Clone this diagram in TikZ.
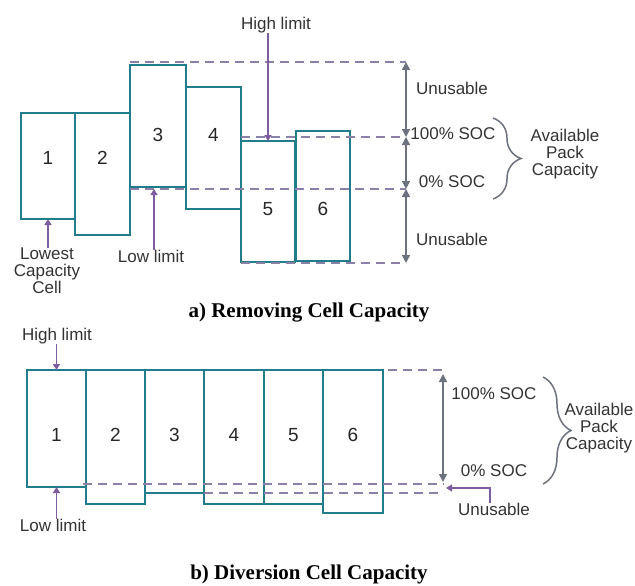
\documentclass[tikz,border=0pt]{standalone}
\usepackage{fontspec}
\setmainfont{Liberation Sans}
\newfontfamily\captionfont{Liberation Serif}
\usepackage{tikz}
\usetikzlibrary{arrows.meta,calc,decorations.pathreplacing}
\definecolor{cellteal}{RGB}{33,124,140}
\definecolor{guidegrey}{RGB}{140,128,168}
\definecolor{limpurple}{RGB}{125,92,160}
\definecolor{socgrey}{RGB}{108,114,128}

\begin{document}
\begin{tikzpicture}[x=1pt, y=-1pt,
    cell/.style={rectangle, draw=cellteal, line width=1.9pt, inner sep=0pt, outer sep=0pt},
    num/.style={font=\fontsize{19}{19}\selectfont, text=black!85, inner sep=0pt},
    lbl/.style={font=\fontsize{17}{17}\selectfont, text=black!80, inner sep=0pt, align=center},
    guide/.style={draw=guidegrey, line width=1.5pt, dash pattern=on 9pt off 6pt},
    limarrow/.style={-{Triangle[length=6pt,width=7pt]}, draw=limpurple, line width=1.6pt},
    socarrow/.style={{Triangle[length=8pt,width=8pt]}-{Triangle[length=8pt,width=8pt]}, draw=socgrey, line width=1.6pt},
    packbrace/.style={draw=socgrey, line width=1.5pt, decorate, decoration={brace, amplitude=28pt}},
    capt/.style={font=\captionfont\fontsize{21}{22}\selectfont\bfseries, inner sep=0pt}]
    \useasboundingbox (0,0) rectangle (635,586);

    % a) removing cell capacity
    \foreach \n/\xl/\xr/\yt/\yb/\ty in {1/21/75/113/219/158, 2/75/130/113/235/158,
        3/130/186/65/187/135, 4/186/241/87/209/135, 5/241/295/141/262/209, 6/296/350/131/261/209}{
        \pgfmathsetmacro{\cellw}{\xr-\xl}
        \pgfmathsetmacro{\cellh}{\yb-\yt}
        \node[cell, minimum width=\cellw pt, minimum height=\cellh pt] (a\n) at ({(\xl+\xr)/2},{(\yt+\yb)/2}) {};
        \node[num] (na\n) at ({(\xl+\xr)/2},\ty) {\n};
    }
    \coordinate (aTop) at (406,62);
    \coordinate (aHi)  at (406,137);
    \coordinate (aLo)  at (406,189);
    \coordinate (aBot) at (406,263);
    \draw[guide] (130,62) -- (aTop);
    \draw[guide] (241,137) -- (aHi);
    \draw[guide] (130,189) -- (aLo);
    \draw[guide] (241,263) -- (aBot);
    \draw[socarrow] (aTop) -- (aHi);
    \draw[socarrow] (aHi) -- (aLo);
    \draw[socarrow] (aLo) -- (aBot);
    \node[lbl] (unA1) at (452,88) {Unusable};
    \node[lbl] (fullA) at (453,134) {100\% SOC};
    \node[lbl] (zeroA) at (452,182) {0\% SOC};
    \node[lbl] (unA2) at (452,239) {Unusable};
    \draw[packbrace] (493,118) -- (493,199);
    \node[lbl] (packA) at (565,154) {Available\\Pack\\Capacity};

    \node[lbl] (hiA) at (276,25) {High limit};
    \draw[limarrow] (hiA.south -| a5.north) -- (a5.north);
    \node[lbl] (loA) at (151,256) {Low limit};
    \draw[limarrow] ([xshift=3pt]loA.north) -- ([xshift=3pt]loA.north |- aLo);
    \node[lbl] (lccA) at (47,271) {Lowest\\Capacity\\Cell};
    \draw[limarrow] (lccA.north -| a1.south) -- (a1.south);

    \node[capt] (captA) at (309,313) {a) Removing Cell Capacity};

    % b) diversion cell capacity
    \foreach \n/\xl/\xr/\yb in {1/27/86/487, 2/86/145/504, 3/145/204/493,
        4/204/264/504, 5/264/323/504, 6/323/383/513}{
        \pgfmathsetmacro{\cellw}{\xr-\xl}
        \pgfmathsetmacro{\cellh}{\yb-370}
        \node[cell, minimum width=\cellw pt, minimum height=\cellh pt] (b\n) at ({(\xl+\xr)/2},{(370+\yb)/2}) {};
        \node[num] (nb\n) at ({(\xl+\xr)/2},435) {\n};
    }
    \coordinate (bTop) at (443,374);
    \coordinate (bLo)  at (443,482);
    \coordinate (bUn)  at (446,488);
    \draw[guide] (388,370) -- (444,370);
    \draw[guide] (83,484) -- (444,484);
    \draw[guide] (204,493) -- (444,493);
    \draw[socarrow] (bTop) -- (bLo);
    \node[lbl] (fullB) at (494,394) {100\% SOC};
    \node[lbl] (zeroB) at (494,471) {0\% SOC};
    \node[lbl] (unB) at (494,509) {Unusable};
    \draw[limarrow] ([xshift=-4pt]unB.north) |- (bUn);
    \draw[packbrace] (543,377) -- (543,484);
    \node[lbl] (packB) at (599,428) {Available\\Pack\\Capacity};

    \node[lbl] (hiB) at (57,336) {High limit};
    \draw[limarrow] (hiB.south -| b1.north) -- (b1.north);
    \node[lbl] (loB) at (53,525) {Low limit};
    \draw[limarrow] (loB.north -| b1.south) -- (b1.south);

    \node[capt] (captB) at (309,574) {b) Diversion Cell Capacity};
\end{tikzpicture}
\end{document}
